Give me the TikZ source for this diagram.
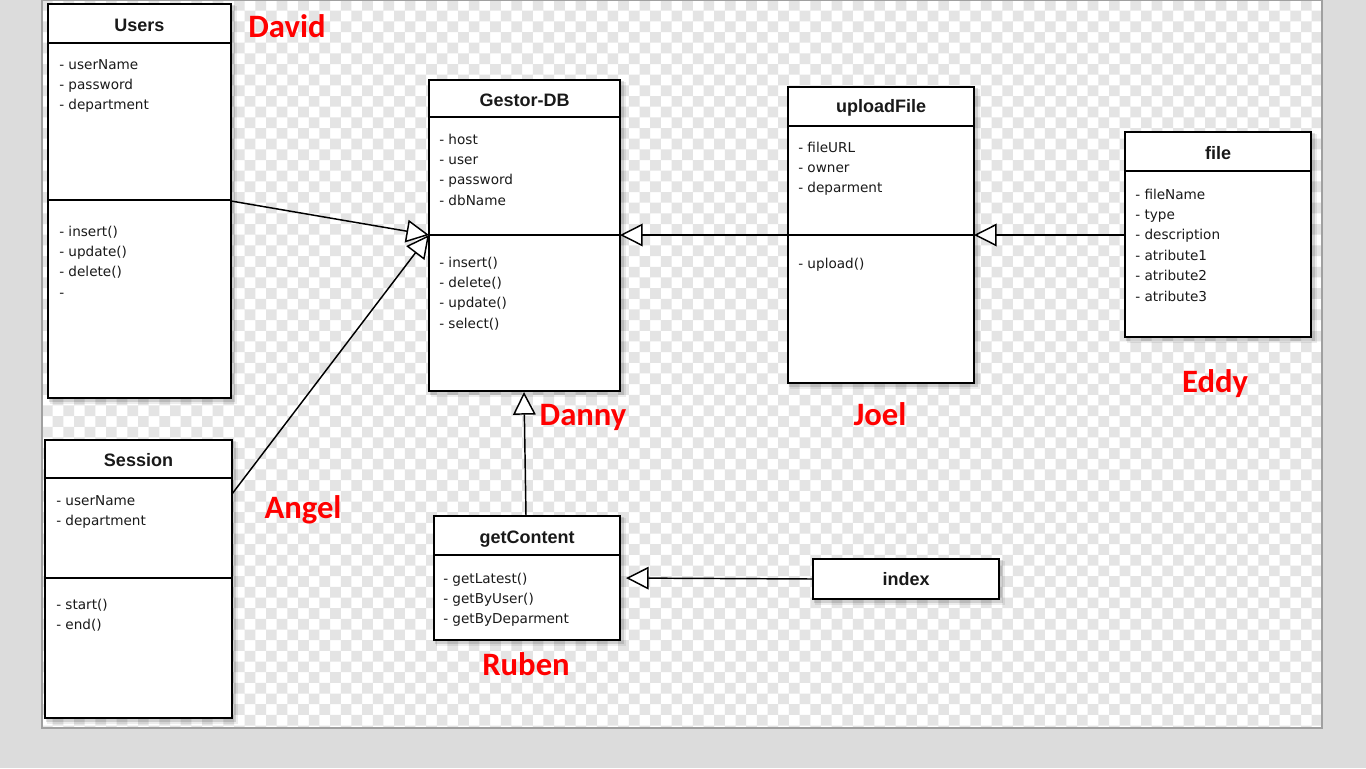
\documentclass[tikz,border=0pt]{standalone}
\usepackage{fontspec}
\setmainfont{DejaVu Sans}
\newfontfamily\titlefont{Liberation Sans}
\newfontfamily\labfont{Carlito}
\usetikzlibrary{arrows.meta,fit}
\definecolor{pagegray}{HTML}{DCDCDC}
\definecolor{checkgray}{HTML}{E4E4E4}
\definecolor{framegray}{HTML}{A0A0A0}
\definecolor{labred}{HTML}{FF0000}
\newcommand\umlboxat[5]{%
  \fill[black,opacity=0.07] (#2+2,#3+2) rectangle (#4+6,#5+6);
  \fill[black,opacity=0.12] (#2+1,#3+1) rectangle (#4+3.5,#5+3.5);
  \node[umlbox, fit={(#2,#3) (#4,#5)}] (#1) {};}
\newcommand\memberlist[4]{%
  \foreach \t [count=\k] in {#4} {\node[member] (#1\k) at (#2, #3+20.4*\k-20.4) {\t};}}
\begin{document}
\begin{tikzpicture}[x=0.75pt,y=-0.75pt,
  umlbox/.style={draw=black, line width=1.1pt, fill=white, inner sep=0pt, rectangle},
  umltitle/.style={font=\titlefont\bfseries\fontsize{13.5}{15}\selectfont, inner sep=0pt, anchor=base, text=black!90},
  member/.style={font=\fontsize{10.2}{12}\selectfont, anchor=base west, inner sep=0pt, text=black!90},
  who/.style={font=\labfont\bfseries\fontsize{24.5}{28}\selectfont, text=labred, inner sep=0pt, anchor=base},
  sepline/.style={line width=1.1pt, black},
  inh/.style={line width=1.1pt, black, -{Triangle[length=17pt,width=17pt,fill=white,line width=1.1pt]}}]
\useasboundingbox (0,0) rectangle (1366,768);
\fill[pagegray] (0,0) rectangle (1366,768);
% checkered canvas
\begin{scope}
\clip (42,0) rectangle (1322,728);
\fill[white] (42,0) rectangle (1322,728);
\fill[checkgray] \foreach \i in {0,2,...,120} { \foreach \j in {0,2,...,68} {
   (42+\i*10.67, \j*10.67) rectangle ++(10.67,10.67)
   (52.67+\i*10.67, 10.67+\j*10.67) rectangle ++(10.67,10.67) } };
\end{scope}
\draw[framegray, line width=1.5pt] (42,0) rectangle (1322,728);
% boxes
\umlboxat{users}{48}{4}{231}{398}
\umlboxat{session}{45}{440}{232}{718}
\umlboxat{gestor}{429}{80}{620}{391}
\umlboxat{upload}{788}{87}{974}{383}
\umlboxat{file}{1125}{132}{1311}{337}
\umlboxat{getc}{434}{516}{620}{640}
\umlboxat{index}{813}{559}{999}{599}
% compartments
\draw[sepline] (48,43) -- (231,43) (48,200) -- (231,200);
\draw[sepline] (45,478) -- (232,478) (45,578) -- (232,578);
\draw[sepline] (429,117) -- (620,117) (429,235) -- (620,235);
\draw[sepline] (788,126) -- (974,126) (788,235) -- (974,235);
\draw[sepline] (1125,171) -- (1311,171);
\draw[sepline] (434,555) -- (620,555);
% titles
\node[umltitle] (usersT) at (139.5,31) {Users};
\node[umltitle] (sessionT) at (138.5,466) {Session};
\node[umltitle] (gestorT) at (524.5,106) {Gestor-DB};
\node[umltitle] (uploadT) at (881,112) {uploadFile};
\node[umltitle] (fileT) at (1218,159) {file};
\node[umltitle] (getcT) at (527,543) {getContent};
\node[umltitle] (indexT) at (906,585) {index};
% members
\memberlist{ua}{59}{69}{- userName,- password,- department}
\memberlist{um}{59}{236}{- insert(),- update(),- delete(),-}
\memberlist{sa}{56}{505}{- userName,- department}
\memberlist{sm}{56}{609}{- start(),- end()}
\memberlist{ga}{439}{144}{- host,- user,- password,- dbName}
\memberlist{gm}{439}{267}{- insert(),- delete(),- update(),- select()}
\memberlist{pa}{798}{152}{- fileURL,- owner,- deparment}
\memberlist{pm}{798}{268}{- upload()}
\memberlist{fa}{1135}{199}{- fileName,- type,- description,- atribute1,- atribute2,- atribute3}
\memberlist{ca}{443}{583}{- getLatest(),- getByUser(),- getByDeparment}
% connector ends
\coordinate (gIn) at (429,235);
\coordinate (gOut) at (620,235);
\coordinate (gBot) at (524,392);
\coordinate (uOut) at (231,201);
\coordinate (sOut) at (232,494);
\coordinate (pIn) at (788,235);
\coordinate (pOut) at (974,235);
\coordinate (fIn) at (1125,235);
\coordinate (cTop) at (526,516);
\coordinate (cR) at (626,578);
\draw[inh] (uOut) -- (gIn);
\draw[inh] (sOut) -- (gIn);
\draw[inh] (pIn) -- (gOut);
\draw[inh] (fIn) -- (pOut);
\draw[inh] (cTop) -- (gBot);
\draw[inh] (index.west) -- (cR);
% names
\node[who] (david) at (287,37) {David};
\node[who] (danny) at (583,425) {Danny};
\node[who] (joel) at (880,425) {Joel};
\node[who] (eddy) at (1215,392) {Eddy};
\node[who] (angel) at (303,518) {Angel};
\node[who] (ruben) at (526,675) {Ruben};
\end{tikzpicture}
\end{document}
